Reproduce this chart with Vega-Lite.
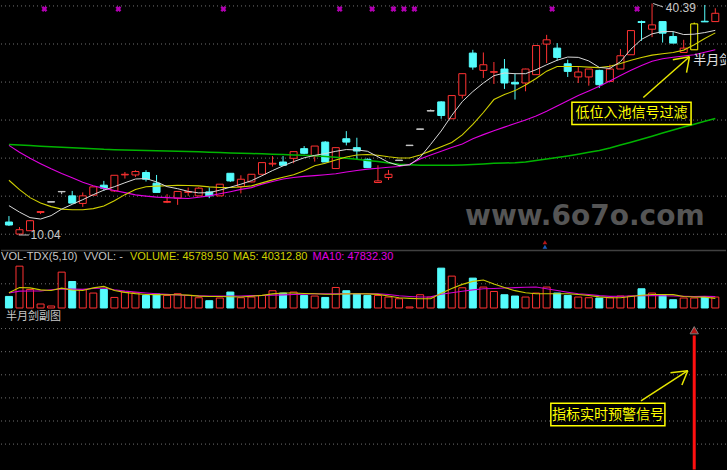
{
  "$schema": "https://vega.github.io/schema/vega-lite/v6.json",
  "width": 727,
  "height": 470,
  "padding": 0,
  "autosize": {"type": "fit", "contains": "padding"},
  "background": "#000000",
  "config": {"view": {"stroke": null}, "axis": {"minExtent": 0}},
  "datasets": {
    "k": [
      {"i":0,"o":11.74,"h":12.52,"l":11.22,"c":11.35,"t":"down","v":48290,"m5":13.89,"m10":17.22,"m20":21.79,"m60":21.92,"vm5":63690,"vm10":62860},
      {"i":1,"o":10.17,"h":11.08,"l":10.04,"c":10.73,"t":"up","v":174850,"m5":13.04,"m10":15.98,"m20":20.88,"m60":21.83,"vm5":85340,"vm10":70350},
      {"i":2,"o":10.60,"h":12.00,"l":10.56,"c":11.91,"t":"up","v":77430,"m5":12.32,"m10":14.94,"m20":20.09,"m60":21.76,"vm5":84090,"vm10":70770},
      {"i":3,"o":13.00,"h":13.11,"l":12.78,"c":13.11,"t":"up","v":16650,"m5":12.13,"m10":14.22,"m20":19.39,"m60":21.69,"vm5":75770,"vm10":70770},
      {"i":4,"o":14.35,"h":14.41,"l":14.35,"c":14.41,"t":"flat","v":8330,"m5":12.58,"m10":13.76,"m20":18.72,"m60":21.62,"vm5":73270,"vm10":76180},
      {"i":5,"o":15.70,"h":15.75,"l":15.39,"c":15.75,"t":"flat","v":149870,"m5":13.43,"m10":13.43,"m20":18.10,"m60":21.55,"vm5":82840,"vm10":79930},
      {"i":6,"o":15.17,"h":15.82,"l":14.22,"c":14.22,"t":"down","v":110740,"m5":14.06,"m10":13.34,"m20":17.56,"m60":21.49,"vm5":75350,"vm10":78680},
      {"i":7,"o":14.18,"h":15.62,"l":13.73,"c":15.17,"t":"up","v":77430,"m5":14.67,"m10":13.34,"m20":16.96,"m60":21.41,"vm5":73270,"vm10":77850},
      {"i":8,"o":15.26,"h":16.35,"l":15.26,"c":16.35,"t":"up","v":62450,"m5":15.33,"m10":13.50,"m20":16.49,"m60":21.35,"vm5":84090,"vm10":81180},
      {"i":9,"o":16.57,"h":17.13,"l":15.82,"c":16.18,"t":"down","v":77430,"m5":15.92,"m10":13.83,"m20":16.15,"m60":21.27,"vm5":90340,"vm10":83260},
      {"i":10,"o":15.82,"h":17.87,"l":15.69,"c":17.87,"t":"up","v":44130,"m5":16.37,"m10":14.54,"m20":15.88,"m60":21.23,"vm5":73270,"vm10":76180},
      {"i":11,"o":17.92,"h":18.30,"l":17.44,"c":18.00,"t":"up","v":66610,"m5":16.89,"m10":15.33,"m20":15.59,"m60":21.19,"vm5":65360,"vm10":70350},
      {"i":12,"o":17.91,"h":18.53,"l":17.65,"c":18.36,"t":"up","v":63690,"m5":17.38,"m10":16.01,"m20":15.30,"m60":21.14,"vm5":59950,"vm10":67020},
      {"i":13,"o":18.23,"h":18.53,"l":17.05,"c":17.35,"t":"down","v":52450,"m5":17.44,"m10":16.37,"m20":15.14,"m60":21.11,"vm5":56620,"vm10":62860},
      {"i":14,"o":16.83,"h":17.91,"l":15.62,"c":15.62,"t":"down","v":58280,"m5":17.00,"m10":16.45,"m20":15.01,"m60":21.09,"vm5":55780,"vm10":59530},
      {"i":15,"o":14.33,"h":15.39,"l":14.22,"c":14.43,"t":"up","v":52450,"m5":16.38,"m10":16.50,"m20":14.94,"m60":21.06,"vm5":55370,"vm10":57030},
      {"i":16,"o":14.87,"h":15.75,"l":13.99,"c":15.75,"t":"up","v":59530,"m5":16.11,"m10":16.54,"m20":14.88,"m60":21.03,"vm5":55370,"vm10":54540},
      {"i":17,"o":15.63,"h":16.27,"l":15.17,"c":15.72,"t":"up","v":52450,"m5":15.76,"m10":16.53,"m20":14.83,"m60":20.98,"vm5":53700,"vm10":52040},
      {"i":18,"o":15.17,"h":16.31,"l":15.13,"c":16.18,"t":"up","v":42880,"m5":15.56,"m10":16.48,"m20":14.99,"m60":20.94,"vm5":49540,"vm10":51200},
      {"i":19,"o":15.69,"h":16.27,"l":14.87,"c":15.17,"t":"down","v":30390,"m5":15.59,"m10":16.35,"m20":15.17,"m60":20.90,"vm5":48290,"vm10":49960},
      {"i":20,"o":15.17,"h":16.70,"l":15.13,"c":16.70,"t":"up","v":41630,"m5":15.92,"m10":16.27,"m20":15.44,"m60":20.85,"vm5":48290,"vm10":49960},
      {"i":21,"o":18.13,"h":18.13,"l":17.00,"c":17.13,"t":"down","v":66610,"m5":16.31,"m10":16.27,"m20":15.72,"m60":20.80,"vm5":47040,"vm10":49960},
      {"i":22,"o":16.40,"h":17.87,"l":15.49,"c":17.35,"t":"up","v":42880,"m5":16.70,"m10":16.33,"m20":16.02,"m60":20.77,"vm5":45790,"vm10":49960},
      {"i":23,"o":17.00,"h":18.00,"l":16.96,"c":18.00,"t":"up","v":45790,"m5":17.16,"m10":16.48,"m20":16.25,"m60":20.72,"vm5":49120,"vm10":51620},
      {"i":24,"o":18.00,"h":19.53,"l":18.00,"c":19.53,"t":"up","v":52450,"m5":17.81,"m10":16.87,"m20":16.71,"m60":20.68,"vm5":52870,"vm10":52450},
      {"i":25,"o":19.34,"h":20.39,"l":19.01,"c":19.44,"t":"up","v":72020,"m5":18.49,"m10":17.27,"m20":17.05,"m60":20.63,"vm5":59110,"vm10":53700},
      {"i":26,"o":19.61,"h":20.39,"l":19.18,"c":19.18,"t":"down","v":62450,"m5":19.10,"m10":17.61,"m20":17.38,"m60":20.58,"vm5":62450,"vm10":54950},
      {"i":27,"o":20.09,"h":20.97,"l":19.44,"c":20.97,"t":"up","v":66610,"m5":19.66,"m10":17.94,"m20":17.57,"m60":20.54,"vm5":62450,"vm10":56200},
      {"i":28,"o":21.36,"h":21.70,"l":20.62,"c":20.75,"t":"down","v":52450,"m5":20.16,"m10":18.45,"m20":17.73,"m60":20.50,"vm5":60780,"vm10":57870},
      {"i":29,"o":20.39,"h":21.70,"l":19.66,"c":21.70,"t":"up","v":49960,"m5":20.48,"m10":19.11,"m20":17.82,"m60":20.42,"vm5":59530,"vm10":59530},
      {"i":30,"o":22.22,"h":22.35,"l":19.61,"c":19.61,"t":"down","v":44130,"m5":20.72,"m10":19.45,"m20":17.94,"m60":20.32,"vm5":57450,"vm10":59530},
      {"i":31,"o":18.75,"h":21.53,"l":18.75,"c":21.49,"t":"up","v":85760,"m5":21.01,"m10":19.87,"m20":18.07,"m60":20.22,"vm5":57450,"vm10":59530},
      {"i":32,"o":22.66,"h":23.66,"l":21.79,"c":22.22,"t":"down","v":72020,"m5":21.24,"m10":20.26,"m20":18.30,"m60":20.11,"vm5":59110,"vm10":59530},
      {"i":33,"o":21.49,"h":22.79,"l":19.96,"c":21.05,"t":"down","v":59530,"m5":21.19,"m10":20.52,"m20":18.50,"m60":19.96,"vm5":59530,"vm10":59530},
      {"i":34,"o":19.96,"h":20.09,"l":18.88,"c":18.88,"t":"down","v":52450,"m5":21.02,"m10":20.59,"m20":18.67,"m60":19.81,"vm5":59110,"vm10":59530},
      {"i":35,"o":16.92,"h":19.18,"l":16.92,"c":17.13,"t":"up","v":52450,"m5":20.30,"m10":20.50,"m20":18.80,"m60":19.66,"vm5":57030,"vm10":59530},
      {"i":36,"o":17.57,"h":18.57,"l":17.26,"c":18.00,"t":"up","v":45790,"m5":19.57,"m10":20.29,"m20":18.92,"m60":19.49,"vm5":50370,"vm10":56200},
      {"i":37,"o":19.80,"h":19.86,"l":19.80,"c":19.86,"t":"flat","v":38720,"m5":19.14,"m10":20.14,"m20":19.02,"m60":19.31,"vm5":42880,"vm10":51200},
      {"i":38,"o":21.76,"h":21.82,"l":21.76,"c":21.82,"t":"flat","v":4160,"m5":19.23,"m10":20.13,"m20":19.31,"m60":19.26,"vm5":40380,"vm10":48290},
      {"i":39,"o":23.89,"h":23.95,"l":23.89,"c":23.95,"t":"flat","v":55370,"m5":20.22,"m10":20.52,"m20":20.01,"m60":19.20,"vm5":38720,"vm10":45790},
      {"i":40,"o":26.29,"h":26.49,"l":26.29,"c":26.35,"t":"flat","v":45790,"m5":21.92,"m10":21.07,"m20":20.54,"m60":19.18,"vm5":38720,"vm10":46630},
      {"i":41,"o":27.49,"h":27.57,"l":25.28,"c":25.71,"t":"down","v":166520,"m5":23.68,"m10":21.62,"m20":21.03,"m60":19.19,"vm5":61610,"vm10":57450},
      {"i":42,"o":25.28,"h":28.32,"l":25.28,"c":28.32,"t":"up","v":133220,"m5":25.71,"m10":22.16,"m20":21.50,"m60":19.20,"vm5":81590,"vm10":63690},
      {"i":43,"o":28.36,"h":31.19,"l":27.93,"c":31.19,"t":"up","v":84510,"m5":27.53,"m10":23.16,"m20":21.97,"m60":19.23,"vm5":98660,"vm10":69940},
      {"i":44,"o":33.89,"h":34.32,"l":31.71,"c":32.06,"t":"down","v":124890,"m5":28.84,"m10":24.53,"m20":22.65,"m60":19.27,"vm5":111150,"vm10":75770},
      {"i":45,"o":31.62,"h":33.97,"l":30.63,"c":32.36,"t":"up","v":87420,"m5":29.97,"m10":26.10,"m20":23.20,"m60":19.34,"vm5":116980,"vm10":80350},
      {"i":46,"o":31.38,"h":32.72,"l":29.84,"c":31.45,"t":"up","v":69110,"m5":30.93,"m10":27.80,"m20":23.71,"m60":19.43,"vm5":99910,"vm10":81590},
      {"i":47,"o":31.80,"h":33.11,"l":29.19,"c":29.97,"t":"down","v":55370,"m5":31.28,"m10":28.45,"m20":24.18,"m60":19.48,"vm5":85340,"vm10":83260},
      {"i":48,"o":30.05,"h":31.19,"l":27.80,"c":29.84,"t":"down","v":49960,"m5":31.19,"m10":28.97,"m20":24.65,"m60":19.52,"vm5":72440,"vm10":84930},
      {"i":49,"o":29.97,"h":31.84,"l":28.88,"c":31.80,"t":"up","v":45790,"m5":31.19,"m10":29.71,"m20":25.12,"m60":19.61,"vm5":63690,"vm10":86590},
      {"i":50,"o":31.06,"h":34.88,"l":31.06,"c":34.88,"t":"up","v":62450,"m5":31.71,"m10":30.56,"m20":25.64,"m60":19.82,"vm5":59530,"vm10":87420},
      {"i":51,"o":35.07,"h":36.28,"l":32.59,"c":35.63,"t":"up","v":87420,"m5":32.36,"m10":31.52,"m20":26.25,"m60":20.01,"vm5":59530,"vm10":80760},
      {"i":52,"o":34.54,"h":35.20,"l":32.89,"c":33.32,"t":"down","v":62450,"m5":32.95,"m10":32.14,"m20":26.95,"m60":20.20,"vm5":59530,"vm10":72850},
      {"i":53,"o":32.49,"h":33.02,"l":30.76,"c":31.49,"t":"down","v":52450,"m5":33.37,"m10":32.14,"m20":27.64,"m60":20.41,"vm5":59530,"vm10":65780},
      {"i":54,"o":30.76,"h":32.14,"l":29.97,"c":31.41,"t":"up","v":45790,"m5":33.33,"m10":32.14,"m20":28.33,"m60":20.64,"vm5":56200,"vm10":59530},
      {"i":55,"o":30.76,"h":31.80,"l":29.62,"c":31.80,"t":"up","v":42880,"m5":32.86,"m10":32.05,"m20":28.92,"m60":20.88,"vm5":52450,"vm10":56620},
      {"i":56,"o":31.62,"h":31.71,"l":29.32,"c":29.75,"t":"down","v":41630,"m5":32.01,"m10":31.99,"m20":29.53,"m60":21.12,"vm5":46630,"vm10":51620},
      {"i":57,"o":30.18,"h":32.36,"l":30.14,"c":31.80,"t":"up","v":42880,"m5":31.88,"m10":32.17,"m20":30.24,"m60":21.45,"vm5":42880,"vm10":48710},
      {"i":58,"o":31.80,"h":34.41,"l":31.80,"c":33.54,"t":"up","v":49960,"m5":32.76,"m10":32.52,"m20":30.94,"m60":21.85,"vm5":42880,"vm10":49120},
      {"i":59,"o":33.67,"h":36.84,"l":33.67,"c":36.84,"t":"up","v":49960,"m5":34.41,"m10":32.94,"m20":31.63,"m60":22.21,"vm5":48290,"vm10":49960},
      {"i":60,"o":38.02,"h":38.15,"l":35.50,"c":37.90,"t":"down","v":80350,"m5":35.69,"m10":33.30,"m20":32.27,"m60":22.59,"vm5":53290,"vm10":51200},
      {"i":61,"o":37.02,"h":40.39,"l":35.98,"c":37.59,"t":"up","v":62450,"m5":36.41,"m10":33.62,"m20":32.83,"m60":22.99,"vm5":56200,"vm10":52040},
      {"i":62,"o":38.02,"h":38.02,"l":35.27,"c":36.50,"t":"down","v":52450,"m5":36.71,"m10":33.80,"m20":33.15,"m60":23.41,"vm5":56620,"vm10":51200},
      {"i":63,"o":36.06,"h":36.71,"l":35.20,"c":35.20,"t":"down","v":34550,"m5":36.71,"m10":33.96,"m20":33.34,"m60":23.81,"vm5":55780,"vm10":49960},
      {"i":64,"o":33.97,"h":35.63,"l":33.97,"c":34.54,"t":"up","v":41630,"m5":36.32,"m10":34.28,"m20":33.50,"m60":24.19,"vm5":48290,"vm10":49120},
      {"i":65,"o":34.32,"h":37.89,"l":34.32,"c":37.72,"t":"sig","v":41630,"m5":36.37,"m10":34.98,"m20":33.67,"m60":24.56,"vm5":45790,"vm10":48290},
      {"i":66,"o":38.06,"h":40.20,"l":37.98,"c":37.98,"t":"down","v":45790,"m5":36.58,"m10":35.80,"m20":34.01,"m60":24.94,"vm5":45380,"vm10":49120},
      {"i":67,"o":38.02,"h":39.77,"l":38.02,"c":39.11,"t":"up","v":45789.5,"m5":36.87,"m10":36.54,"m20":34.32,"m60":25.31,"vm5":40312.8,"vm10":47832.3}
    ],
    "xs": [{"i":3.36},{"i":10.38},{"i":20.34},{"i":31.37},{"i":34.45},{"i":36.47},{"i":37.47},{"i":38.46},{"i":51.52},{"i":59.58}],
    "ind": [{"i":65,"s":5.7}],
    "gp": [{"g":40.07},{"g":35.08},{"g":30.09},{"g":25.11},{"g":20.12},{"g":15.13},{"g":10.14}],
    "gv": [{"g":101000}],
    "gi": [{"g":1},{"g":2},{"g":3},{"g":4},{"g":5},{"g":6}]
  },
  "resolve": {"scale": {"y": "independent"}, "axis": {"y": "independent"}},
  "layer": [
    {
      "layer": [
        {"data": {"name": "gp"}, "mark": {"type": "rule", "color": "#707070", "strokeWidth": 1, "strokeDash": [1, 3]},
         "encoding": {"y": {"field": "g", "type": "quantitative", "scale": {"domain": [-20.51, 40.85], "nice": false, "zero": false}, "axis": null}}},
        {"data": {"name": "k"}, "mark": {"type": "rule", "strokeWidth": 1},
         "encoding": {
           "x": {"field": "i", "type": "quantitative", "scale": {"domain": [-0.28, 67.54], "nice": false, "zero": false}, "axis": null},
           "y": {"field": "l", "type": "quantitative", "axis": null},
           "y2": {"field": "h"},
           "stroke": {"condition": [{"test": "datum.t === 'down'", "value": "#54fcfc"}, {"test": "datum.t === 'flat'", "value": "#c8c8c8"}, {"test": "datum.t === 'sig'", "value": "#ffff00"}], "value": "#ff3232"}
         }},
        {"data": {"name": "k"}, "mark": {"type": "bar", "width": 7, "strokeWidth": 1, "orient": "vertical"},
         "encoding": {
           "x": {"field": "i", "type": "quantitative", "axis": null},
           "y": {"field": "o", "type": "quantitative", "axis": null},
           "y2": {"field": "c"},
           "fill": {"condition": [{"test": "datum.t === 'down'", "value": "#54fcfc"}, {"test": "datum.t === 'flat'", "value": "#c8c8c8"}], "value": "#000000"},
           "stroke": {"condition": [{"test": "datum.t === 'down'", "value": "#54fcfc"}, {"test": "datum.t === 'flat'", "value": "#c8c8c8"}, {"test": "datum.t === 'sig'", "value": "#ffff00"}], "value": "#ff3232"}
         }},
        {"data": {"name": "k"}, "mark": {"type": "line", "color": "#00b400", "strokeWidth": 1.5},
         "encoding": {"x": {"field": "i", "type": "quantitative", "axis": null}, "y": {"field": "m60", "type": "quantitative", "axis": null}}},
        {"data": {"name": "k"}, "mark": {"type": "line", "color": "#e000e0", "strokeWidth": 1.1},
         "encoding": {"x": {"field": "i", "type": "quantitative", "axis": null}, "y": {"field": "m20", "type": "quantitative", "axis": null}}},
        {"data": {"name": "k"}, "mark": {"type": "line", "color": "#d0d000", "strokeWidth": 1.1},
         "encoding": {"x": {"field": "i", "type": "quantitative", "axis": null}, "y": {"field": "m10", "type": "quantitative", "axis": null}}},
        {"data": {"name": "k"}, "mark": {"type": "line", "color": "#d8d8d8", "strokeWidth": 1},
         "encoding": {"x": {"field": "i", "type": "quantitative", "axis": null}, "y": {"field": "m5", "type": "quantitative", "axis": null}}},
        {"data": {"name": "xs"}, "mark": {"type": "point", "shape": "cross", "angle": 45, "filled": true, "size": 36, "color": "#ff00ff"},
         "encoding": {"x": {"field": "i", "type": "quantitative", "axis": null}, "y": {"datum": 39.67, "type": "quantitative", "axis": null}}},
        {"data": {"values": [{}]}, "mark": {"type": "point", "shape": "triangle-up", "filled": true, "size": 22, "color": "#ff2020"},
         "encoding": {"x": {"datum": 50.84, "type": "quantitative", "axis": null}, "y": {"datum": 9.1, "type": "quantitative", "axis": null}}},
        {"data": {"values": [{}]}, "mark": {"type": "point", "shape": "triangle-up", "filled": true, "size": 22, "color": "#2a80ff"},
         "encoding": {"x": {"datum": 50.84, "type": "quantitative", "axis": null}, "y": {"datum": 8.5, "type": "quantitative", "axis": null}}},
        {"data": {"values": [{}]}, "mark": {"type": "text", "text": "www.6o7o.com", "color": "#555555", "fontSize": 28, "fontWeight": "bold", "font": "DejaVu Sans", "align": "center", "baseline": "middle", "clip": true},
         "encoding": {"x": {"datum": 54.62, "type": "quantitative", "axis": null}, "y": {"datum": 12.46, "type": "quantitative", "axis": null}}},
        {"data": {"values": [{}]}, "mark": {"type": "rule", "color": "#c0c0c0", "strokeWidth": 1},
         "encoding": {"x": {"datum": 0.93, "type": "quantitative", "axis": null}, "x2": {"datum": 1.9}, "y": {"datum": 10.04, "type": "quantitative", "axis": null}, "y2": {"datum": 10.04}}},
        {"data": {"values": [{}]}, "mark": {"type": "text", "text": "10.04", "color": "#c8c8c8", "fontSize": 12, "font": "Liberation Sans", "align": "left", "baseline": "middle", "clip": true},
         "encoding": {"x": {"datum": 2.05, "type": "quantitative", "axis": null}, "y": {"datum": 10.04, "type": "quantitative", "axis": null}}},
        {"data": {"values": [{}]}, "mark": {"type": "rule", "color": "#c0c0c0", "strokeWidth": 1},
         "encoding": {"x": {"datum": 61.1, "type": "quantitative", "axis": null}, "x2": {"datum": 62.04}, "y": {"datum": 40.39, "type": "quantitative", "axis": null}, "y2": {"datum": 39.94}}},
        {"data": {"values": [{}]}, "mark": {"type": "text", "text": "40.39", "color": "#c8c8c8", "fontSize": 12, "font": "Liberation Sans", "align": "left", "baseline": "middle", "clip": true},
         "encoding": {"x": {"datum": 62.31, "type": "quantitative", "axis": null}, "y": {"datum": 39.81, "type": "quantitative", "axis": null}}},
        {"data": {"values": [{}]}, "mark": {"type": "text", "text": "半月剑", "color": "#e0e0e0", "fontSize": 13, "font": "Noto Sans CJK SC", "align": "left", "baseline": "middle", "clip": true},
         "encoding": {"x": {"datum": 64.9, "type": "quantitative", "axis": null}, "y": {"datum": 33.02, "type": "quantitative", "axis": null}}},
        {"data": {"values": [{}]}, "mark": {"type": "rule", "color": "#e6e600", "strokeWidth": 1.5},
         "encoding": {"x": {"datum": 60.17, "type": "quantitative", "axis": null}, "x2": {"datum": 64.55}, "y": {"datum": 28.06, "type": "quantitative", "axis": null}, "y2": {"datum": 33.41}}},
        {"data": {"values": [{}]}, "mark": {"type": "rule", "color": "#e6e600", "strokeWidth": 1.5},
         "encoding": {"x": {"datum": 62.97, "type": "quantitative", "axis": null}, "x2": {"datum": 64.55}, "y": {"datum": 33.02, "type": "quantitative", "axis": null}, "y2": {"datum": 33.41}}},
        {"data": {"values": [{}]}, "mark": {"type": "rule", "color": "#e6e600", "strokeWidth": 1.5},
         "encoding": {"x": {"datum": 64.27, "type": "quantitative", "axis": null}, "x2": {"datum": 64.55}, "y": {"datum": 31.32, "type": "quantitative", "axis": null}, "y2": {"datum": 33.41}}},
        {"data": {"values": [{}]}, "mark": {"type": "rect", "fillOpacity": 0, "stroke": "#ffff00", "strokeWidth": 1.5},
         "encoding": {"x": {"datum": 53.4, "type": "quantitative", "axis": null}, "x2": {"datum": 64.7}, "y": {"datum": 27.44, "type": "quantitative", "axis": null}, "y2": {"datum": 24.53}}},
        {"data": {"values": [{}]}, "mark": {"type": "text", "text": "低位入池信号过滤", "color": "#ffff00", "fontSize": 14, "font": "Noto Sans CJK SC", "align": "center", "baseline": "middle", "clip": true},
         "encoding": {"x": {"datum": 59.05, "type": "quantitative", "axis": null}, "y": {"datum": 25.97, "type": "quantitative", "axis": null}}}
      ]
    },
    {
      "layer": [
        {"data": {"name": "gv"}, "mark": {"type": "rule", "color": "#707070", "strokeWidth": 1, "strokeDash": [1, 3]},
         "encoding": {"y": {"field": "g", "type": "quantitative", "scale": {"domain": [-668990, 1287620], "nice": false, "zero": false}, "axis": null}}},
        {"data": {"name": "k"}, "mark": {"type": "bar", "width": 7, "strokeWidth": 1, "orient": "vertical"},
         "encoding": {
           "x": {"field": "i", "type": "quantitative", "axis": null},
           "y": {"field": "v", "type": "quantitative", "axis": null},
           "fill": {"condition": {"test": "datum.t === 'down'", "value": "#54fcfc"}, "value": "#000000"},
           "stroke": {"condition": {"test": "datum.t === 'down'", "value": "#54fcfc"}, "value": "#ff3232"}
         }},
        {"data": {"name": "k"}, "mark": {"type": "line", "color": "#d000d0", "strokeWidth": 1.1},
         "encoding": {"x": {"field": "i", "type": "quantitative", "axis": null}, "y": {"field": "vm10", "type": "quantitative", "axis": null}}},
        {"data": {"name": "k"}, "mark": {"type": "line", "color": "#c8c800", "strokeWidth": 1.1},
         "encoding": {"x": {"field": "i", "type": "quantitative", "axis": null}, "y": {"field": "vm5", "type": "quantitative", "axis": null}}},
        {"data": {"values": [{}]}, "mark": {"type": "rule", "color": "#404040", "strokeWidth": 1.5},
         "encoding": {"y": {"datum": 240600, "type": "quantitative", "axis": null}}},
        {"data": {"values": [{}]}, "mark": {"type": "text", "text": "VOL-TDX(5,10)", "color": "#c8c8c8", "fontSize": 11, "font": "Liberation Sans", "align": "left", "baseline": "middle", "clip": true},
         "encoding": {"x": {"datum": -0.75, "type": "quantitative", "axis": null}, "y": {"datum": 212313, "type": "quantitative", "axis": null}}},
        {"data": {"values": [{}]}, "mark": {"type": "text", "text": "VVOL: -", "color": "#c8c8c8", "fontSize": 11, "font": "Liberation Sans", "align": "left", "baseline": "middle", "clip": true},
         "encoding": {"x": {"datum": 7.09, "type": "quantitative", "axis": null}, "y": {"datum": 212313, "type": "quantitative", "axis": null}}},
        {"data": {"values": [{}]}, "mark": {"type": "text", "text": "VOLUME: 45789.50", "color": "#d0d000", "fontSize": 11, "font": "Liberation Sans", "align": "left", "baseline": "middle", "clip": true},
         "encoding": {"x": {"datum": 11.47, "type": "quantitative", "axis": null}, "y": {"datum": 212313, "type": "quantitative", "axis": null}}},
        {"data": {"values": [{}]}, "mark": {"type": "text", "text": "MA5: 40312.80", "color": "#d0d000", "fontSize": 11, "font": "Liberation Sans", "align": "left", "baseline": "middle", "clip": true},
         "encoding": {"x": {"datum": 21.24, "type": "quantitative", "axis": null}, "y": {"datum": 212313, "type": "quantitative", "axis": null}}},
        {"data": {"values": [{}]}, "mark": {"type": "text", "text": "MA10: 47832.30", "color": "#e000e0", "fontSize": 11, "font": "Liberation Sans", "align": "left", "baseline": "middle", "clip": true},
         "encoding": {"x": {"datum": 28.8, "type": "quantitative", "axis": null}, "y": {"datum": 212313, "type": "quantitative", "axis": null}}}
      ]
    },
    {
      "layer": [
        {"data": {"name": "gi"}, "mark": {"type": "rule", "color": "#707070", "strokeWidth": 1, "strokeDash": [1, 3]},
         "encoding": {"y": {"field": "g", "type": "quantitative", "scale": {"domain": [-0.0345, 20.224], "nice": false, "zero": false}, "axis": null}}},
        {"data": {"name": "ind"}, "mark": {"type": "bar", "width": 3, "color": "#ff1010", "orient": "vertical"},
         "encoding": {
           "x": {"field": "i", "type": "quantitative", "axis": null},
           "y": {"field": "s", "type": "quantitative", "axis": null},
           "y2": {"datum": -0.1}
         }},
        {"data": {"name": "ind"}, "mark": {"type": "point", "shape": "triangle-up", "filled": true, "size": 70, "color": "#ff2020", "stroke": "#b0b0b0", "strokeWidth": 1},
         "encoding": {"x": {"field": "i", "type": "quantitative", "axis": null}, "y": {"datum": 5.93, "type": "quantitative", "axis": null}}},
        {"data": {"values": [{}]}, "mark": {"type": "text", "text": "半月剑副图", "color": "#c8c8c8", "fontSize": 11, "font": "Noto Sans CJK SC", "align": "left", "baseline": "middle", "clip": true},
         "encoding": {"x": {"datum": -0.28, "type": "quantitative", "axis": null}, "y": {"datum": 6.52, "type": "quantitative", "axis": null}}},
        {"data": {"values": [{}]}, "mark": {"type": "rule", "color": "#e6e600", "strokeWidth": 1.5},
         "encoding": {"x": {"datum": 59.95, "type": "quantitative", "axis": null}, "x2": {"datum": 64.39}, "y": {"datum": 2.866, "type": "quantitative", "axis": null}, "y2": {"datum": 4.177}}},
        {"data": {"values": [{}]}, "mark": {"type": "rule", "color": "#e6e600", "strokeWidth": 1.5},
         "encoding": {"x": {"datum": 62.75, "type": "quantitative", "axis": null}, "x2": {"datum": 64.39}, "y": {"datum": 4.09, "type": "quantitative", "axis": null}, "y2": {"datum": 4.177}}},
        {"data": {"values": [{}]}, "mark": {"type": "rule", "color": "#e6e600", "strokeWidth": 1.5},
         "encoding": {"x": {"datum": 63.83, "type": "quantitative", "axis": null}, "x2": {"datum": 64.39}, "y": {"datum": 3.556, "type": "quantitative", "axis": null}, "y2": {"datum": 4.177}}},
        {"data": {"values": [{}]}, "mark": {"type": "rect", "fillOpacity": 0, "stroke": "#ffff00", "strokeWidth": 1.5},
         "encoding": {"x": {"datum": 51.4, "type": "quantitative", "axis": null}, "x2": {"datum": 62.22}, "y": {"datum": 2.767, "type": "quantitative", "axis": null}, "y2": {"datum": 1.789}}},
        {"data": {"values": [{}]}, "mark": {"type": "text", "text": "指标实时预警信号", "color": "#ffff00", "fontSize": 14, "font": "Noto Sans CJK SC", "align": "center", "baseline": "middle", "clip": true},
         "encoding": {"x": {"datum": 56.81, "type": "quantitative", "axis": null}, "y": {"datum": 2.28, "type": "quantitative", "axis": null}}}
      ]
    }
  ]
}
